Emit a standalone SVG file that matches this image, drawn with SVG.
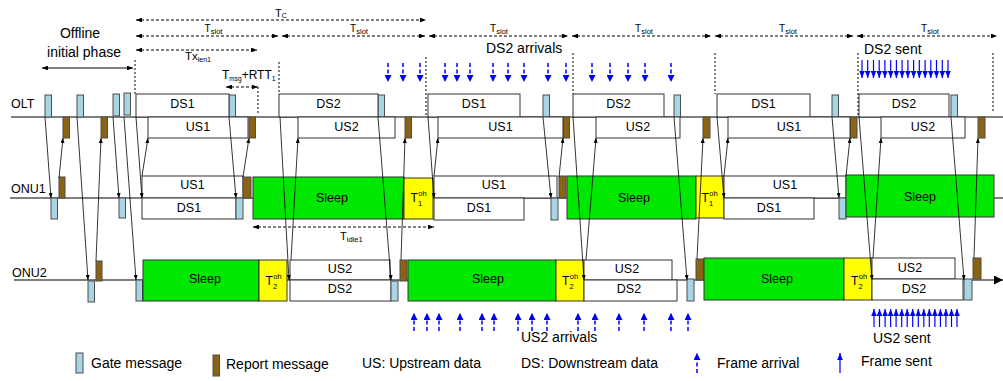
<svg xmlns="http://www.w3.org/2000/svg" width="1003" height="381" viewBox="0 0 1003 381">
<style>
.t{font-family:"Liberation Sans",Arial,sans-serif;fill:#000}
.c{text-anchor:middle}
.bx{fill:#fff;stroke:#333;stroke-width:1}
.g{fill:#a8d5e5;stroke:#4d4d4d;stroke-width:1}
.r{fill:#8a6414;stroke:#4d4d4d;stroke-width:1}
.sl{fill:#00e800;stroke:#333;stroke-width:1}
.oh{fill:#ffff00;stroke:#333;stroke-width:1}
.ax{stroke:#555;stroke-width:1.5;fill:none}
.cn{stroke:#000;stroke-width:0.8;fill:none;marker-end:url(#ah)}
.dm{stroke:#000;stroke-width:1;stroke-dasharray:3 2;fill:none;marker-start:url(#dh);marker-end:url(#dh)}
.so{stroke:#000;stroke-width:1;fill:none;marker-start:url(#dh);marker-end:url(#dh)}
.vd{stroke:#000;stroke-width:1;stroke-dasharray:2 2;fill:none}
.fa{stroke:#00f;stroke-width:1.5;stroke-dasharray:4 2.5;fill:none;marker-end:url(#bh)}
.fs{stroke:#00f;stroke-width:1.2;fill:none;marker-end:url(#sh)}
.bl{font-size:12.5px}
.lg{font-size:14px}
.s8{font-size:7.5px}
</style>
<defs>
<marker id="ah" viewBox="0 0 10 8" refX="10" refY="4" markerWidth="5" markerHeight="4" orient="auto" markerUnits="userSpaceOnUse"><path d="M0,0L10,4L0,8z" fill="#000"/></marker>
<marker id="dh" viewBox="0 0 10 8" refX="10" refY="4" markerWidth="6" markerHeight="4.8" orient="auto-start-reverse" markerUnits="userSpaceOnUse"><path d="M0,0L10,4L0,8z" fill="#000"/></marker>
<marker id="big" viewBox="0 0 10 10" refX="10" refY="5" markerWidth="9" markerHeight="9" orient="auto" markerUnits="userSpaceOnUse"><path d="M0,0L10,5L0,10z" fill="#000"/></marker>
<marker id="bh" viewBox="0 0 10 10" refX="10" refY="5" markerWidth="7" markerHeight="7" orient="auto" markerUnits="userSpaceOnUse"><path d="M0,0L10,5L0,10z" fill="#00f"/></marker>
<marker id="sh" viewBox="0 0 10 8" refX="10" refY="4" markerWidth="7" markerHeight="5.6" orient="auto" markerUnits="userSpaceOnUse"><path d="M0,0L10,4L0,8z" fill="#00f"/></marker>
</defs>

<g id="axes">
<line class="ax" x1="11" y1="117" x2="1003" y2="117"/>
<line class="ax" x1="10" y1="198" x2="1003" y2="198"/>
<line class="ax" x1="14" y1="280" x2="1003" y2="280" marker-end="url(#big)"/>
<text class="t" x="11" y="108" font-size="12.5">OLT</text>
<text class="t" x="11" y="193" font-size="12.5">ONU1</text>
<text class="t" x="12" y="277" font-size="12.5">ONU2</text>
</g>

<g id="olt">
<g id="olt-gates">
<rect class="g" x="45" y="95" width="6.5" height="22"/>
<rect class="g" x="77" y="95" width="6.5" height="22"/>
<rect class="g" x="113" y="94" width="6.5" height="22"/>
<rect class="g" x="124" y="93" width="6.5" height="22"/>
<rect class="g" x="229" y="95" width="6.5" height="22"/>
<rect class="g" x="378" y="95" width="6.5" height="22"/>
<rect class="g" x="543" y="95" width="6.5" height="22"/>
<rect class="g" x="674" y="95" width="6.5" height="22"/>
<rect class="g" x="832" y="95" width="6.5" height="22"/>
<rect class="g" x="951" y="95" width="6.5" height="22"/>
</g>
<g id="olt-reports">
<rect class="r" x="63" y="117" width="6.5" height="21"/>
<rect class="r" x="101" y="117" width="6.5" height="21"/>
<rect class="r" x="249" y="117" width="6.5" height="21"/>
<rect class="r" x="405" y="117" width="6.5" height="21"/>
<rect class="r" x="563" y="117" width="6.5" height="21"/>
<rect class="r" x="703" y="117" width="7" height="21"/>
<rect class="r" x="850" y="117" width="7" height="21"/>
<rect class="r" x="978" y="117" width="7" height="21"/>
</g>
<g id="olt-ds">
<rect class="bx" x="136" y="94" width="93" height="23"/><text class="t c bl" x="182.5" y="108">DS1</text>
<rect class="bx" x="279" y="94" width="99" height="23"/><text class="t c bl" x="328.5" y="108">DS2</text>
<rect class="bx" x="428" y="94" width="92" height="23"/><text class="t c bl" x="474" y="108">DS1</text>
<rect class="bx" x="573" y="94" width="91" height="23"/><text class="t c bl" x="618.5" y="108">DS2</text>
<rect class="bx" x="717" y="94" width="93" height="23"/><text class="t c bl" x="763.5" y="108">DS1</text>
<rect class="bx" x="859" y="94" width="90" height="23"/><text class="t c bl" x="904" y="108">DS2</text>
</g>
<g id="olt-us">
<rect class="bx" x="148" y="117" width="100" height="21"/><text class="t c bl" x="198" y="131">US1</text>
<rect class="bx" x="298" y="117" width="97" height="21"/><text class="t c bl" x="346.5" y="131">US2</text>
<rect class="bx" x="438" y="117" width="125" height="21"/><text class="t c bl" x="500.5" y="131">US1</text>
<rect class="bx" x="596" y="117" width="84" height="21"/><text class="t c bl" x="638" y="131">US2</text>
<rect class="bx" x="728" y="117" width="122" height="21"/><text class="t c bl" x="789" y="131">US1</text>
<rect class="bx" x="881" y="117" width="84" height="21"/><text class="t c bl" x="923" y="131">US2</text>
</g>
</g>

<g id="onu1">
<rect class="r" x="59" y="177" width="6" height="21"/>
<rect class="g" x="51" y="198" width="6.5" height="21"/>
<rect class="g" x="119" y="198" width="6.5" height="20"/>
<rect class="bx" x="142" y="176" width="101" height="22"/><text class="t c bl" x="192.5" y="189">US1</text>
<rect class="bx" x="142" y="198" width="94" height="21"/><text class="t c bl" x="189" y="212">DS1</text>
<rect class="g" x="236" y="198" width="7" height="21"/>
<rect class="r" x="243" y="177" width="8" height="21"/>
<rect class="sl" x="253" y="177" width="151" height="42"/><text class="t c bl" x="332" y="202">Sleep</text>
<rect class="oh" x="404" y="178" width="29" height="41"/>
<text class="t" x="410.5" y="202" font-size="12">T<tspan class="s8" dx="0.5" dy="-6">oh</tspan><tspan class="s8" x="418" dy="10">1</tspan></text>
<rect class="bx" x="434" y="176" width="123" height="22"/><text class="t c bl" x="494" y="189">US1</text>
<rect class="bx" x="434" y="198" width="90" height="22"/><text class="t c bl" x="479" y="212">DS1</text>
<rect class="g" x="551" y="198" width="7" height="22"/>
<rect class="r" x="559" y="176" width="7" height="22"/>
<rect class="sl" x="567" y="176" width="129" height="43"/><text class="t c bl" x="634" y="202">Sleep</text>
<rect class="oh" x="696" y="176" width="28" height="42"/>
<text class="t" x="701.5" y="202" font-size="12">T<tspan class="s8" dx="0.5" dy="-6">oh</tspan><tspan class="s8" x="709" dy="10">1</tspan></text>
<rect class="bx" x="724" y="176" width="122" height="22"/><text class="t c bl" x="785" y="189">US1</text>
<rect class="bx" x="724" y="198" width="90" height="21"/><text class="t c bl" x="769" y="212">DS1</text>
<rect class="g" x="839" y="198" width="7" height="21"/>
<rect class="sl" x="846" y="175" width="148" height="42"/><text class="t c bl" x="920" y="201">Sleep</text>
</g>

<g id="onu2">
<rect class="g" x="88" y="281" width="6.5" height="21"/>
<rect class="r" x="96" y="261" width="6" height="20"/>
<rect class="g" x="136" y="280" width="6.5" height="21"/>
<rect class="sl" x="143" y="260" width="116" height="41"/><text class="t c bl" x="205" y="283">Sleep</text>
<rect class="oh" x="259" y="260" width="28" height="41"/>
<text class="t" x="265.5" y="285" font-size="12">T<tspan class="s8" dx="0.5" dy="-6">oh</tspan><tspan class="s8" x="273" dy="10">2</tspan></text>
<rect class="bx" x="290" y="260" width="100" height="20"/><text class="t c bl" x="340" y="273">US2</text>
<rect class="bx" x="290" y="280" width="101" height="21"/><text class="t c bl" x="340" y="293">DS2</text>
<rect class="g" x="391" y="281" width="7" height="20"/>
<rect class="r" x="400" y="260" width="7" height="21"/>
<rect class="sl" x="408" y="260" width="148" height="41"/><text class="t c bl" x="488" y="283">Sleep</text>
<rect class="oh" x="556" y="260" width="28" height="41"/>
<text class="t" x="562" y="285" font-size="12">T<tspan class="s8" dx="0.5" dy="-6">oh</tspan><tspan class="s8" x="569.5" dy="10">2</tspan></text>
<rect class="bx" x="584" y="260" width="88" height="20"/><text class="t c bl" x="627" y="273">US2</text>
<rect class="bx" x="584" y="280" width="93" height="21"/><text class="t c bl" x="629" y="293">DS2</text>
<rect class="g" x="687" y="279" width="7" height="22"/>
<rect class="r" x="696" y="259" width="8" height="21"/>
<rect class="sl" x="704" y="258" width="140" height="42"/><text class="t c bl" x="777" y="283">Sleep</text>
<rect class="oh" x="844" y="258" width="28" height="42"/>
<text class="t" x="851" y="285" font-size="12">T<tspan class="s8" dx="0.5" dy="-6">oh</tspan><tspan class="s8" x="858.5" dy="10">2</tspan></text>
<rect class="bx" x="872" y="258" width="83" height="21"/><text class="t c bl" x="910" y="272">US2</text>
<rect class="bx" x="872" y="279" width="91" height="21"/><text class="t c bl" x="914" y="293">DS2</text>
<rect class="g" x="964" y="279" width="8" height="21"/>
<rect class="r" x="973" y="258" width="8" height="21"/>
</g>

<g id="connectors">
<line class="cn" x1="45" y1="117" x2="51" y2="198"/>
<line class="cn" x1="113" y1="117" x2="119" y2="198"/>
<line class="cn" x1="136" y1="117" x2="142" y2="198"/>
<line class="cn" x1="229" y1="117" x2="236" y2="198"/>
<line class="cn" x1="428" y1="117" x2="434" y2="198"/>
<line class="cn" x1="543" y1="117" x2="551" y2="198"/>
<line class="cn" x1="717" y1="117" x2="724" y2="198"/>
<line class="cn" x1="832" y1="117" x2="839" y2="198"/>
<line class="cn" x1="59" y1="178" x2="63" y2="138"/>
<line class="cn" x1="142" y1="176" x2="148" y2="138"/>
<line class="cn" x1="243" y1="177" x2="249" y2="138"/>
<line class="cn" x1="434" y1="176" x2="438" y2="138"/>
<line class="cn" x1="559" y1="177" x2="563" y2="138"/>
<line class="cn" x1="724" y1="176" x2="728" y2="138"/>
<line class="cn" x1="846" y1="176" x2="850" y2="138"/>
<line class="cn" x1="77" y1="117" x2="88" y2="280"/>
<line class="cn" x1="124" y1="117" x2="136" y2="280"/>
<line class="cn" x1="280" y1="117" x2="289" y2="280"/>
<line class="cn" x1="378" y1="117" x2="391" y2="280"/>
<line class="cn" x1="573" y1="117" x2="584" y2="280"/>
<line class="cn" x1="674" y1="117" x2="687" y2="280"/>
<line class="cn" x1="859" y1="117" x2="872" y2="280"/>
<line class="cn" x1="951" y1="117" x2="964" y2="280"/>
<line class="cn" x1="96" y1="261" x2="101" y2="138"/>
<line class="cn" x1="291" y1="260" x2="298" y2="138"/>
<line class="cn" x1="401" y1="260" x2="405" y2="138"/>
<line class="cn" x1="586" y1="260" x2="596" y2="138"/>
<line class="cn" x1="697" y1="259" x2="703" y2="138"/>
<line class="cn" x1="873" y1="258" x2="881" y2="138"/>
<line class="cn" x1="974" y1="258" x2="978" y2="138"/>
</g>

<g id="annotations">
<text class="t c lg" x="80" y="38">Offline</text>
<text class="t c lg" x="84" y="57">initial phase</text>
<line class="so" x1="42" y1="68" x2="133" y2="68"/>
<text class="t" x="275" y="17" font-size="11">T<tspan font-size="7" dy="1">C</tspan></text>
<line class="dm" x1="136" y1="20" x2="426" y2="20"/>
<line class="dm" x1="136" y1="36" x2="278" y2="36"/>
<line class="dm" x1="282" y1="36" x2="425" y2="36"/>
<line class="dm" x1="429" y1="36" x2="568" y2="36"/>
<line class="dm" x1="572" y1="36" x2="711" y2="36"/>
<line class="dm" x1="715" y1="36" x2="853" y2="36"/>
<line class="dm" x1="857" y1="36" x2="997" y2="36"/>
<text class="t c" x="213.5" y="32" font-size="10">T<tspan font-size="7.5" dy="1.5">slot</tspan></text>
<text class="t c" x="359" y="32" font-size="10">T<tspan font-size="7.5" dy="1.5">slot</tspan></text>
<text class="t c" x="499" y="32" font-size="10">T<tspan font-size="7.5" dy="1.5">slot</tspan></text>
<text class="t c" x="644" y="32" font-size="10">T<tspan font-size="7.5" dy="1.5">slot</tspan></text>
<text class="t c" x="788" y="32" font-size="10">T<tspan font-size="7.5" dy="1.5">slot</tspan></text>
<text class="t c" x="930" y="32" font-size="10">T<tspan font-size="7.5" dy="1.5">slot</tspan></text>
<line class="dm" x1="136" y1="50" x2="257" y2="50"/>
<text class="t" x="185" y="60" font-size="11.5">Tx<tspan font-size="7" dy="2">len1</tspan></text>
<text class="t" x="222" y="79" font-size="12">T<tspan font-size="6.5" dy="1.5">msg</tspan><tspan dy="-1.5">+RTT</tspan><tspan font-size="7" dy="2">1</tspan></text>
<line class="dm" x1="226" y1="87" x2="258" y2="87"/>
<line class="dm" x1="253" y1="227" x2="434" y2="227"/>
<text class="t" x="340" y="240" font-size="11">T<tspan font-size="7.5" dy="2">idle1</tspan></text>
<line class="vd" x1="135" y1="60" x2="135" y2="94"/>
<line class="vd" x1="279" y1="62" x2="279" y2="94"/>
<line class="vd" x1="258" y1="87" x2="258" y2="113"/>
<line class="vd" x1="426" y1="57" x2="426" y2="117"/>
<line class="vd" x1="573" y1="53" x2="573" y2="94"/>
<line class="vd" x1="715" y1="53" x2="715" y2="94"/>
<line class="vd" x1="858" y1="53" x2="858" y2="117"/>
<line class="vd" x1="993" y1="53" x2="993" y2="112"/>
<text class="t lg" x="486" y="53">DS2 arrivals</text>
<text class="t lg" x="864" y="54">DS2 sent</text>
<text class="t lg" x="521" y="342">US2 arrivals</text>
<text class="t lg" x="873" y="343">US2 sent</text>
</g>

<g id="ds2-arrivals">
<line class="fa" x1="388" y1="63" x2="388" y2="82"/>
<line class="fa" x1="403" y1="63" x2="403" y2="82"/>
<line class="fa" x1="420" y1="63" x2="420" y2="82"/>
<line class="fa" x1="445" y1="63" x2="445" y2="82"/>
<line class="fa" x1="457" y1="63" x2="457" y2="82"/>
<line class="fa" x1="470" y1="63" x2="470" y2="82"/>
<line class="fa" x1="493" y1="63" x2="493" y2="82"/>
<line class="fa" x1="508" y1="63" x2="508" y2="82"/>
<line class="fa" x1="524" y1="63" x2="524" y2="82"/>
<line class="fa" x1="548" y1="63" x2="548" y2="82"/>
<line class="fa" x1="566" y1="63" x2="566" y2="82"/>
<line class="fa" x1="592" y1="63" x2="592" y2="82"/>
<line class="fa" x1="610" y1="63" x2="610" y2="82"/>
<line class="fa" x1="628" y1="63" x2="628" y2="82"/>
<line class="fa" x1="645" y1="63" x2="645" y2="82"/>
<line class="fa" x1="671" y1="63" x2="671" y2="82"/>
</g>
<g id="us2-arrivals">
<line class="fa" x1="414" y1="331" x2="414" y2="313"/>
<line class="fa" x1="427" y1="331" x2="427" y2="313"/>
<line class="fa" x1="439" y1="331" x2="439" y2="313"/>
<line class="fa" x1="460" y1="331" x2="460" y2="313"/>
<line class="fa" x1="482" y1="331" x2="482" y2="313"/>
<line class="fa" x1="494" y1="331" x2="494" y2="313"/>
<line class="fa" x1="518" y1="331" x2="518" y2="313"/>
<line class="fa" x1="532" y1="331" x2="532" y2="313"/>
<line class="fa" x1="547" y1="331" x2="547" y2="313"/>
<line class="fa" x1="578" y1="331" x2="578" y2="313"/>
<line class="fa" x1="595" y1="331" x2="595" y2="313"/>
<line class="fa" x1="619" y1="331" x2="619" y2="313"/>
<line class="fa" x1="644" y1="331" x2="644" y2="313"/>
<line class="fa" x1="671" y1="331" x2="671" y2="313"/>
<line class="fa" x1="688" y1="331" x2="688" y2="313"/>
</g>
<g id="ds2-sent">
<line class="fs" x1="862" y1="60" x2="862" y2="78"/>
<line class="fs" x1="867.7" y1="60" x2="867.7" y2="78"/>
<line class="fs" x1="873.5" y1="60" x2="873.5" y2="78"/>
<line class="fs" x1="879.2" y1="60" x2="879.2" y2="78"/>
<line class="fs" x1="884.9" y1="60" x2="884.9" y2="78"/>
<line class="fs" x1="890.7" y1="60" x2="890.7" y2="78"/>
<line class="fs" x1="896.4" y1="60" x2="896.4" y2="78"/>
<line class="fs" x1="902.1" y1="60" x2="902.1" y2="78"/>
<line class="fs" x1="907.9" y1="60" x2="907.9" y2="78"/>
<line class="fs" x1="913.6" y1="60" x2="913.6" y2="78"/>
<line class="fs" x1="919.3" y1="60" x2="919.3" y2="78"/>
<line class="fs" x1="925.1" y1="60" x2="925.1" y2="78"/>
<line class="fs" x1="930.8" y1="60" x2="930.8" y2="78"/>
<line class="fs" x1="936.5" y1="60" x2="936.5" y2="78"/>
<line class="fs" x1="942.3" y1="60" x2="942.3" y2="78"/>
<line class="fs" x1="948" y1="60" x2="948" y2="78"/>
</g>
<g id="us2-sent">
<line class="fs" x1="874" y1="327" x2="874" y2="309"/>
<line class="fs" x1="879.5" y1="327" x2="879.5" y2="309"/>
<line class="fs" x1="885.1" y1="327" x2="885.1" y2="309"/>
<line class="fs" x1="890.6" y1="327" x2="890.6" y2="309"/>
<line class="fs" x1="896.1" y1="327" x2="896.1" y2="309"/>
<line class="fs" x1="901.7" y1="327" x2="901.7" y2="309"/>
<line class="fs" x1="907.2" y1="327" x2="907.2" y2="309"/>
<line class="fs" x1="912.7" y1="327" x2="912.7" y2="309"/>
<line class="fs" x1="918.3" y1="327" x2="918.3" y2="309"/>
<line class="fs" x1="923.8" y1="327" x2="923.8" y2="309"/>
<line class="fs" x1="929.3" y1="327" x2="929.3" y2="309"/>
<line class="fs" x1="934.9" y1="327" x2="934.9" y2="309"/>
<line class="fs" x1="940.4" y1="327" x2="940.4" y2="309"/>
<line class="fs" x1="945.9" y1="327" x2="945.9" y2="309"/>
<line class="fs" x1="951.5" y1="327" x2="951.5" y2="309"/>
<line class="fs" x1="957" y1="327" x2="957" y2="309"/>
</g>

<g id="legend">
<rect class="g" x="76" y="353" width="7" height="20"/>
<text class="t lg" x="91" y="368">Gate message</text>
<rect class="r" x="213" y="355" width="6.5" height="21"/>
<text class="t lg" x="226" y="369">Report message</text>
<text class="t lg" x="362" y="368">US: Upstream data</text>
<text class="t lg" x="521" y="368">DS: Downstream data</text>
<line class="fa" x1="697" y1="373" x2="697" y2="353"/>
<text class="t lg" x="717" y="368">Frame arrival</text>
<line class="fs" x1="840" y1="373" x2="840" y2="353"/>
<text class="t lg" x="861" y="366">Frame sent</text>
</g>
</svg>
